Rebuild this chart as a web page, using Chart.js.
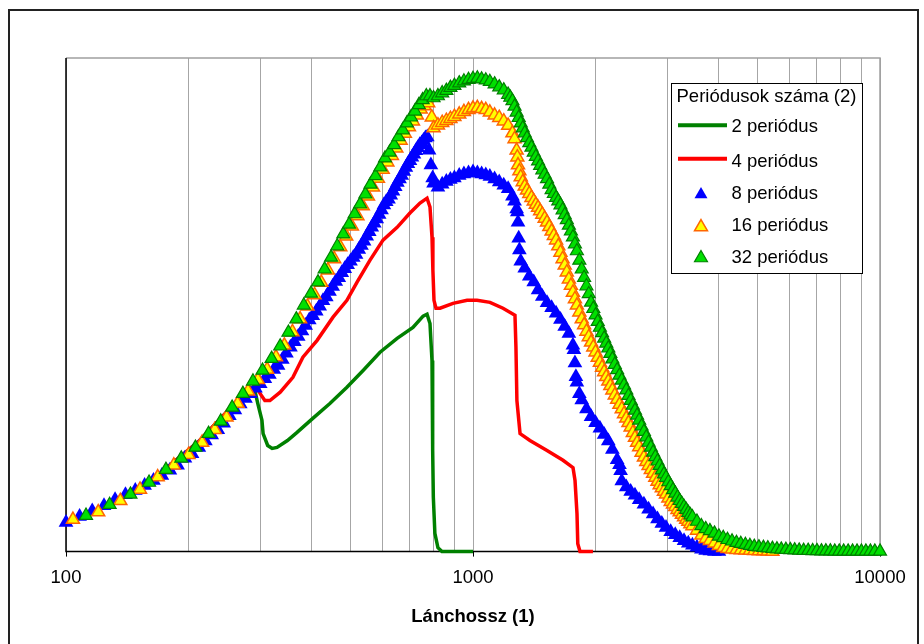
<!DOCTYPE html>
<html><head><meta charset="utf-8">
<script src="https://cdn.jsdelivr.net/npm/chart.js@4.4.1/dist/chart.umd.min.js"></script>
<style>html,body{margin:0;padding:0;background:#fff}#wrap{width:924px;height:644px}</style>
</head><body><div id="wrap"><canvas id="c" width="924" height="644"></canvas></div>
<script>
const FONT = '"Liberation Sans", Arial, Helvetica, sans-serif';

// ---- axis / text ----
const gridTickValues = [100,200,300,400,500,600,700,800,900,1000,2000,3000,4000,5000,6000,7000,8000,9000,10000];
const labelledTicks = [100,1000,10000];
const axisTitle = 'Lánchossz (1)';
const legendTitle = 'Periódusok száma (2)';
const seriesLabels = ['2 periódus','4 periódus','8 periódus','16 periódus','32 periódus'];

// ---- 2 periódus (line) ----
const p2X = [100,121,161,213,253,283,291,296,303,305,313,321,330,350,369,404,445,490,537,591,651,712,754,771,784,793,795,797,799,806,820,839,1000];
const p2Y = [5.9,8.7,14.2,22.5,29.0,33.1,32.7,30.0,26.6,23.9,21.5,20.9,21.1,22.5,24.1,27.0,30.0,33.3,36.7,40.4,43.2,45.4,47.7,48.1,46.2,38.7,28.0,20.5,11.0,3.7,0.8,0,0];

// ---- 4 periódus (line) ----
const p4X = [100,121,161,213,253,283,293,300,308,317,336,361,382,414,453,490,519,558,601,651,700,741,771,784,793,797,802,811,830,893,967,1023,1101,1185,1268,1275,1282,1305,1380,1520,1664,1761,1781,1801,1809,1832,1971];
const p4Y = [5.9,8.7,14.2,22.5,29.0,33.1,33.5,32.0,30.6,30.6,32.3,35.3,39.4,42.8,47.5,50.9,54.6,59.0,63.1,65.7,68.6,70.6,71.6,69.8,63.7,57.0,50.9,49.3,49.3,50.3,50.9,50.9,50.5,49.3,47.9,41.4,30.6,23.9,22.5,20.5,18.5,17.0,14.4,7.7,1.6,0,0];

// ---- 8 periódus (markers) ----
const p8X = [
  100,108,116,124,132,140,148,156,164,172,
  180,188,196,204,212,220,228,236,244,252,
  260,268,276,284,292,300,308,316,324,332,
  340,348,356,364,372,380,388,396,404,412,
  420,428,436,444,452,460,468,476,484,492,
  500,508,516,524,532,540,548,556,564,572,
  580,588,596,604,612,620,628,636,644,652,
  660,668,676,684,692,700,708,716,724,732,
  740,748,756,764,772,780,788,796,
  800,820,840,860,880,900,925,950,975,1000,
  1025,1050,1075,1100,1130,1160,1190,1220,1250,1265,
  1280,1285,1290,1295,1300,1310,1340,1375,1410,1445,
  1480,1520,1560,1600,1640,1680,1720,1760,1770,1780,
  1790,1800,1825,1850,1900,1950,2000,2050,2100,2150,
  2200,2260,2290,2305,2320,2380,2440,2500,2560,2630,
  2700,2770,2840,2910,2980,3060,3140,3220,3300,3380,
  3460,3550,3640,3730,3820,3920,4020];
const p8Y = [
  5.9,7.1,8.2,9.3,10.5,11.5,12.4,13.4,14.4,15.4,
  16.5,17.5,18.9,19.8,21.1,22.4,23.6,24.7,26.0,27.5,
  28.7,29.9,31.0,32.0,33.1,34.0,35.0,35.9,36.9,37.7,
  38.9,40.2,41.4,42.5,43.6,44.7,45.8,46.9,47.8,48.7,
  49.7,50.8,51.6,52.7,53.7,54.7,55.5,56.5,57.3,58.1,
  58.8,59.6,60.2,61.2,62.0,62.9,63.9,64.8,65.7,66.5,
  67.4,68.3,69.2,70.2,70.9,71.4,72.2,73.0,73.9,74.8,
  75.5,76.2,77.0,77.8,78.6,79.2,79.9,80.5,81.2,81.8,
  82.4,82.8,83.3,83.8,84.0,81.3,78.3,75.7,
  74.6,73.8,74.4,75.0,75.4,75.7,76.2,76.5,76.7,76.9,
  76.7,76.5,76.3,76.0,75.5,74.9,74.2,73.5,72.0,71.0,
  69.4,68.8,66.7,63.5,61.1,58.8,57.4,55.8,54.6,53.0,
  51.7,50.4,49.4,48.3,47.0,45.6,44.2,41.8,40.9,38.2,
  35.4,34.3,32.0,30.7,28.9,27.3,26.1,25.0,23.7,22.4,
  20.7,18.6,17.6,16.4,14.3,13.1,12.2,11.4,10.5,9.6,
  8.6,7.6,6.6,5.7,4.9,4.0,3.4,2.8,2.2,1.7,
  1.3,0.9,0.5,0.2,0.1,0.0,0.0];

// ---- 16 periódus (markers) ----
const p16X = [
  104,120,136,152,168,184,200,216,232,248,
  264,280,296,312,328,344,360,376,392,408,
  424,440,456,472,488,504,520,536,552,568,
  584,600,616,632,648,664,680,696,712,728,
  744,760,776,792,
  800,820,840,860,880,900,925,950,975,1000,
  1025,1050,1075,1100,1130,1160,1190,1220,1250,1265,
  1280,1285,1290,1300,1310,1325,1340,1357,1375,1392,
  1410,1427,1445,1462,1480,1500,1520,1540,1560,1580,
  1600,1620,1640,1660,1680,1700,1720,1740,1760,1780,
  1800,1825,1850,1875,1900,1925,1950,1975,2000,2025,
  2050,2075,2100,2125,2150,2175,2200,2230,2260,2290,
  2320,2350,2380,2410,2440,2470,2500,2530,2560,2595,
  2630,2665,2700,2735,2770,2805,2840,2875,2910,2945,
  2980,3020,3060,3100,3140,3180,3220,3260,3300,3340,
  3380,3420,3460,3550,3640,3730,3820,3920,4020,4120,
  4220,4330,4440,4550,4670,4790,4910,5040,5170,5300,
  5440];
const p16Y = [
  6.5,8.0,10.3,12.6,15.1,17.5,19.6,22.1,24.7,27.2,
  30.0,32.5,34.8,36.9,39.4,41.8,44.5,47.1,49.7,52.0,
  54.5,57.0,59.3,61.7,63.9,65.9,68.0,70.0,72.0,73.8,
  75.6,77.4,78.9,80.2,81.7,83.3,84.7,86.0,87.2,88.4,
  89.6,90.3,90.9,88.0,
  85.8,86.4,86.9,87.3,87.7,88.1,88.6,89.1,89.5,89.8,
  89.9,89.7,89.5,89.0,88.4,87.9,87.2,86.3,84.8,83.6,
  81.3,79.9,78.3,77.1,75.9,74.9,74.0,73.2,72.5,71.7,
  71.0,70.3,69.7,69.0,68.3,67.5,66.7,65.8,64.9,64.0,
  63.1,61.9,60.6,59.3,58.0,56.6,55.2,53.9,52.5,51.2,
  49.9,48.5,47.1,45.9,44.6,43.5,42.4,41.4,40.4,39.3,
  38.3,37.3,36.4,35.4,34.5,33.6,32.7,31.7,30.8,29.8,
  28.9,27.9,27.0,26.1,25.2,24.1,23.1,22.1,21.2,20.1,
  19.1,18.2,17.4,16.6,15.8,15.0,14.2,13.5,12.9,12.2,
  11.6,10.8,10.1,9.6,9.1,8.5,8.0,7.5,7.0,6.5,
  6.1,5.6,5.2,4.3,3.3,2.6,2.2,1.7,1.2,0.8,
  0.6,0.5,0.4,0.3,0.25,0.2,0.15,0.1,0.1,0.05,
  0.0];

// ---- 32 periódus (markers) ----
const p32X = [
  112,128,144,160,176,192,208,224,240,256,
  272,288,304,320,336,352,368,384,400,416,
  432,448,464,480,496,512,528,544,560,576,
  592,608,624,640,656,672,688,704,720,736,
  752,768,784,
  800,820,840,860,880,900,925,950,975,1000,
  1025,1050,1075,1100,1130,1160,1190,1220,1235,1250,
  1265,1280,1295,1310,1325,1340,1357,1375,1392,1410,
  1427,1445,1462,1480,1500,1520,1540,1560,1580,1600,
  1620,1640,1660,1680,1700,1720,1740,1760,1780,1800,
  1825,1850,1875,1900,1925,1950,1975,2000,2025,2050,
  2075,2100,2125,2150,2175,2200,2230,2260,2290,2320,
  2350,2380,2410,2440,2470,2500,2530,2560,2595,2630,
  2665,2700,2735,2770,2805,2840,2875,2910,2945,2980,
  3020,3060,3100,3140,3180,3220,3260,3300,3340,3380,
  3420,3460,3550,3640,3730,3820,3920,4020,4120,4220,
  4330,4440,4550,4670,4790,4910,5040,5170,5300,5440,
  5580,5720,5870,6020,6170,6330,6490,6660,6830,7000,
  7180,7360,7550,7740,7940,8140,8350,8560,8780,9000,
  9230,9470,9710,10000];
const p32Y = [
  7.3,9.5,11.6,14.0,16.6,18.9,21.1,23.9,26.4,29.2,
  32.0,34.5,36.7,39.1,41.6,44.4,47.1,49.9,52.3,54.6,
  57.2,59.6,61.9,64.3,66.3,68.4,70.4,72.4,74.4,76.1,
  77.9,79.7,80.9,82.4,84.0,85.4,86.8,88.0,89.2,90.5,
  91.5,92.3,92.3,
  91.9,92.3,92.9,93.4,94.0,94.4,94.9,95.3,95.6,95.8,
  95.9,95.7,95.5,95.2,94.7,94.1,93.5,92.6,92.0,91.3,
  90.2,89.0,87.9,86.8,85.8,84.8,83.8,82.8,81.9,80.9,
  80.0,79.1,78.2,77.3,76.4,75.5,74.4,73.3,72.5,71.7,
  71.0,70.2,69.2,68.2,67.2,66.1,64.9,63.7,62.3,60.9,
  59.0,57.2,55.5,53.8,52.2,50.5,49.2,47.9,46.6,45.4,
  44.3,43.2,42.2,41.2,40.1,39.0,37.9,36.8,35.7,34.7,
  33.7,32.7,31.6,30.6,29.6,28.6,27.6,26.6,25.4,24.3,
  23.2,22.1,21.1,20.1,19.2,18.3,17.4,16.5,15.7,15.0,
  14.1,13.3,12.5,11.8,11.0,10.3,9.7,9.1,8.5,7.9,
  7.4,7.0,6.1,5.2,4.6,4.2,3.7,3.1,2.8,2.4,
  2.1,1.8,1.6,1.4,1.2,1.0,0.9,0.8,0.7,0.6,
  0.5,0.45,0.4,0.35,0.3,0.25,0.2,0.2,0.15,0.15,
  0.1,0.1,0.1,0.05,0.05,0.05,0.05,0.05,0.05,0.05,
  0.05,0.05,0.05,0.05];

function zip(xs, ys) {
  if (xs.length !== ys.length) console.warn('length mismatch', xs.length, ys.length);
  const out = [];
  for (let i = 0; i < Math.min(xs.length, ys.length); i++) out.push({x: xs[i], y: ys[i]});
  return out;
}

function triPath(ctx, x, y, r) {
  let rad = 0;
  ctx.beginPath();
  for (let k = 0; k < 3; k++) {
    const px = x + Math.sin(rad) * r, py = y - Math.cos(rad) * r;
    if (k === 0) ctx.moveTo(px, py); else ctx.lineTo(px, py);
    rad += 2 * Math.PI / 3;
  }
  ctx.closePath();
}

const framePlugin = {
  id: 'frame',
  beforeDraw(chart) {
    const ctx = chart.ctx;
    ctx.save(); ctx.fillStyle = '#fff'; ctx.fillRect(0, 0, chart.width, chart.height); ctx.restore();
  },
  beforeDatasetsDraw(chart) {
    const {ctx, chartArea: a} = chart;
    ctx.save();
    ctx.strokeStyle = '#a0a0a0'; ctx.lineWidth = 1.5;
    ctx.beginPath(); ctx.moveTo(a.left, a.top); ctx.lineTo(a.right, a.top); ctx.lineTo(a.right, a.bottom); ctx.stroke();
    ctx.strokeStyle = '#000'; ctx.lineWidth = 1.5;
    ctx.beginPath(); ctx.moveTo(a.left, a.top); ctx.lineTo(a.left, a.bottom); ctx.lineTo(a.right, a.bottom); ctx.stroke();
    ctx.restore();
  },
  afterDraw(chart) {
    const ctx = chart.ctx;
    ctx.save();
    ctx.strokeStyle = '#222'; ctx.lineWidth = 2;
    ctx.strokeRect(9, 10, 909, 660);
    ctx.restore();
  }
};

const legendPlugin = {
  id: 'boxLegend',
  afterDraw(chart) {
    const ctx = chart.ctx;
    ctx.save();
    const bx = 671.5, by = 83.5, bw = 191, bh = 190;
    ctx.fillStyle = '#fff'; ctx.fillRect(bx, by, bw, bh);
    ctx.strokeStyle = '#000'; ctx.lineWidth = 1; ctx.strokeRect(bx, by, bw, bh);
    ctx.font = '18.5px ' + FONT; ctx.fillStyle = '#000'; ctx.textAlign = 'left'; ctx.textBaseline = 'alphabetic';
    ctx.fillText(legendTitle, 676.5, 102);
    const rowBase = [132, 166.5, 199, 231, 263];
    const markY = [125.3, 158.7, 194.5, 227, 258];
    seriesLabels.forEach((lab, i) => {
      const ds = chart.data.datasets.find(d => d.label === lab);
      if (!ds) return;
      if (ds.showLine === false) {
        triPath(ctx, 701, markY[i], 7.5);
        ctx.fillStyle = ds.pointBackgroundColor; ctx.fill();
        if (ds.pointBorderWidth) { ctx.strokeStyle = ds.pointBorderColor; ctx.lineWidth = ds.pointBorderWidth; ctx.stroke(); }
      } else {
        ctx.strokeStyle = ds.borderColor; ctx.lineWidth = 4;
        ctx.beginPath(); ctx.moveTo(678, markY[i]); ctx.lineTo(727, markY[i]); ctx.stroke();
      }
      ctx.fillStyle = '#000';
      ctx.fillText(lab, 731.5, rowBase[i]);
    });
    ctx.restore();
  }
};

new Chart(document.getElementById('c'), {
  type: 'line',
  data: {
    datasets: [
      {label: seriesLabels[4], data: zip(p32X, p32Y), showLine: false, pointStyle: 'triangle', pointRadius: 7.5,
       pointBackgroundColor: '#00e000', pointBorderColor: '#008000', pointBorderWidth: 1.2, order: 1, clip: false},
      {label: seriesLabels[3], data: zip(p16X, p16Y), showLine: false, pointStyle: 'triangle', pointRadius: 7.5,
       pointBackgroundColor: '#ffff00', pointBorderColor: '#ff6600', pointBorderWidth: 1.5, order: 2, clip: false},
      {label: seriesLabels[2], data: zip(p8X, p8Y), showLine: false, pointStyle: 'triangle', pointRadius: 8.5,
       pointBackgroundColor: '#0000ff', pointBorderColor: '#0000ff', pointBorderWidth: 0, order: 3, clip: false},
      {label: seriesLabels[1], data: zip(p4X, p4Y), borderColor: '#ff0000', borderWidth: 3.5, pointRadius: 0,
       tension: 0, order: 4, clip: false},
      {label: seriesLabels[0], data: zip(p2X, p2Y), borderColor: '#008000', borderWidth: 3.5, pointRadius: 0,
       tension: 0, order: 5, clip: false}
    ]
  },
  options: {
    responsive: false,
    animation: false,
    devicePixelRatio: 1,
    events: [],
    layout: {padding: {left: 66, right: 44, top: 58, bottom: 12}},
    plugins: {legend: {display: false}, tooltip: {enabled: false}},
    scales: {
      x: {
        type: 'logarithmic', min: 100, max: 10000,
        afterBuildTicks: s => { s.ticks = gridTickValues.map(v => ({value: v, major: labelledTicks.includes(v)})); },
        ticks: {autoSkip: false, maxRotation: 0, minRotation: 0, color: '#000', padding: 10,
                font: {family: FONT, size: 18.5},
                callback: v => labelledTicks.includes(v) ? String(v) : ''},
        grid: {color: '#a6a6a6', lineWidth: 1, tickLength: 5,
               tickColor: c => (c.tick && labelledTicks.includes(c.tick.value)) ? '#000' : 'rgba(0,0,0,0)'},
        border: {display: false},
        title: {display: true, text: axisTitle, color: '#000',
                font: {family: FONT, size: 18.5, weight: 'bold'}, padding: {top: 7, bottom: 4}}
      },
      y: {display: false, min: 0, max: 100}
    }
  },
  plugins: [framePlugin, legendPlugin]
});
</script>
</body></html>
